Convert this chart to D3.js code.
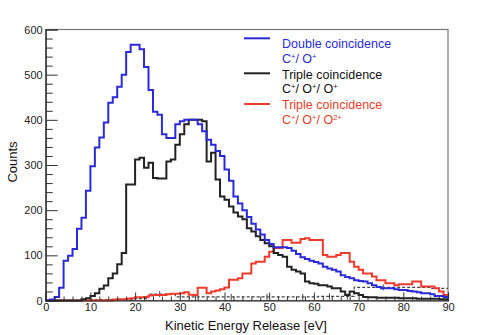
<!DOCTYPE html>
<html><head><meta charset="utf-8">
<script src="https://cdn.jsdelivr.net/npm/d3@7"></script>
<style>body{margin:0;background:#fff}svg{display:block;font-family:"Liberation Sans",Arial,sans-serif}</style>
</head><body><svg id="c" width="496" height="335"></svg>
<script>
const binEdges = d3.range(0, 91, 1);
const blueDouble = [0,2,8,28,88,99,114,159,183,243, 297,339,361,394,438,450,473,500,550,566, 566,556,517,466,418,411,368,360,360,390, 397,400,400,400,390,375,356,345,331,320, 290,265,230,215,200,185,170,157,146,134, 125,118,118,118,116,110,103,96,92,88, 85,82,75,71,68,64,56,52,49,45, 43,42,38,34,30,27,27,27,25,23, 23,21,20,18,16,16,14,10,10,8];
const blackTriple = [0,0,0,0,0,0,0,0,3,5, 10,16,26,33,49,60,80,105,257,257, 312,316,294,305,271,270,270,308,312,345, 368,390,400,400,400,397,308,327,268,230, 223,208,195,186,180,160,153,142,134,127, 120,105,101,97,75,68,64,60,42,38, 37,34,34,31,27,27,20,12,20,16, 12,8,7,7,6,6,6,6,6,5, 5,5,5,4,4,4,4,4,3,3];
const redTriple = [0,0,0,0,0,0,0,0,0,0, 0,0,0,0,0,2,3,3,4,5, 7,7,8,11,12,12,12,14,15,15, 16,18,13,12,28,28,16,20,22,25, 29,46,46,49,60,60,82,86,86,97, 108,116,116,134,134,128,128,136,138,134, 134,134,101,97,97,101,105,105,86,75, 68,60,60,53,45,45,38,38,34,36, 36,36,42,42,31,31,31,27,20,12];
const dashedBg = [0,0,0,0,0,0,0,0,0,0, 2,2,2,2,2,2,2,2,2,2, 4,4,4,14,14,14,14,14,14,8, 8,8,8,8,8,8,8,8,8,8, 8,8,8,8,8,8,8,8,8,8, 8,8,8,8,8,8,8,8,8,8, 8,9,9,9,9,9,9,9,9,29, 29,29,29,29,29,29,29,29,29,29, 29,29,29,29,29,29,27,27,27,27];
const yTicks = [0,100,200,300,400,500,600];
const xTicks = [0,10,20,30,40,50,60,70,80,90];
const legendTitles = ["Double coincidence","Triple coincidence","Triple coincidence"];
const legendIons = [[["C","+"],["/ O","+"]], [["C","+"],["/ O","+"],["/ O","+"]], [["C","+"],["/ O","+"],["/ O","2+"]]];
const seriesColors = ["#2a2ad8","#222222","#ee3b2c"];
const textColors = ["#2b2bd0","#111111","#e2412a"];

const svg = d3.select("#c");
const L = 45.7, R = 448, T = 29.5, B = 300.5;
const x = d3.scaleLinear().domain([0,90]).range([L,R]);
const y = d3.scaleLinear().domain([0,600]).range([B,T]);

svg.append("rect").attr("x",L).attr("y",T).attr("width",R-L).attr("height",B-T)
  .attr("fill","none").attr("stroke","#777").attr("stroke-width",1.2);

function hist(vals){
  const pts = vals.map((v,i)=>[binEdges[i], v]);
  pts.push([binEdges[vals.length], vals[vals.length-1]]);
  return d3.line().x(d=>x(d[0])).y(d=>y(d[1])).curve(d3.curveStepAfter)(pts);
}
const g = svg.append("g");
g.append("path").attr("d",hist(dashedBg)).attr("fill","none").attr("stroke","#444").attr("stroke-width",1.2).attr("stroke-dasharray","3,2");
[25,33,41,49,57,63,67,75].forEach(e=>{
  g.append("line").attr("x1",x(e+0.5)).attr("x2",x(e+0.5)).attr("y1",y(dashedBg[e])-3).attr("y2",y(dashedBg[e])+3).attr("stroke","#444").attr("stroke-width",1);
});
g.append("path").attr("d",hist(redTriple)).attr("fill","none").attr("stroke",seriesColors[2]).attr("stroke-width",2);
g.append("path").attr("d",hist(blackTriple)).attr("fill","none").attr("stroke",seriesColors[1]).attr("stroke-width",2);
g.append("path").attr("d",hist(blueDouble)).attr("fill","none").attr("stroke",seriesColors[0]).attr("stroke-width",2);

svg.append("g").attr("transform",`translate(${L},0)`)
  .call(d3.axisLeft(y).tickValues(yTicks).tickSize(-12).tickPadding(3));
svg.append("g").attr("transform",`translate(${L},0)`)
  .call(d3.axisLeft(y).tickValues(d3.range(0,601,20).filter(v=>v%100)).tickSize(-7).tickFormat(""))
  .call(s=>s.select(".domain").remove());
svg.append("g").attr("transform",`translate(0,${B})`)
  .call(d3.axisBottom(x).tickValues(xTicks).tickSize(-8).tickPadding(3));
svg.append("g").attr("transform",`translate(0,${B})`)
  .call(d3.axisBottom(x).tickValues(d3.range(0,91,2).filter(v=>v%10)).tickSize(-4).tickFormat(""))
  .call(s=>s.select(".domain").remove());
svg.selectAll(".domain").attr("stroke","#222").attr("stroke-width",1.2);
svg.selectAll(".tick line").attr("stroke","#333");
svg.selectAll(".tick text").attr("font-size",11).attr("fill","#222").attr("font-family","Liberation Sans, Arial, sans-serif");

svg.append("text").attr("x",246).attr("y",330).attr("text-anchor","middle").attr("font-size",13).attr("fill","#111").text("Kinetic Energy Release [eV]");
svg.append("text").attr("transform","translate(17,162) rotate(-90)").attr("text-anchor","middle").attr("font-size",13).attr("fill","#111").text("Counts");

// legend
const lineYs = [38.3, 73.3, 104];
const lg = svg.append("g");
legendTitles.forEach((title,i)=>{
  const c1 = 43.7 + 30.65*i;
  lg.append("line").attr("x1",244).attr("x2",270).attr("y1",lineYs[i]).attr("y2",lineYs[i]).attr("stroke",seriesColors[i]).attr("stroke-width",2);
  lg.append("text").attr("x",282).attr("y",c1+4.4).attr("font-size",12.5).attr("fill",textColors[i]).text(title);
  const t = lg.append("text").attr("x",282).attr("y",c1+14.6+4.4).attr("font-size",12.5).attr("fill",textColors[i]);
  legendIons[i].forEach((p,j)=>{
    t.append("tspan").attr("dy", j===0?0:4).text(p[0]);
    t.append("tspan").attr("dy",-4).attr("font-size",7.5).text(p[1]);
  });
});
</script></body></html>
